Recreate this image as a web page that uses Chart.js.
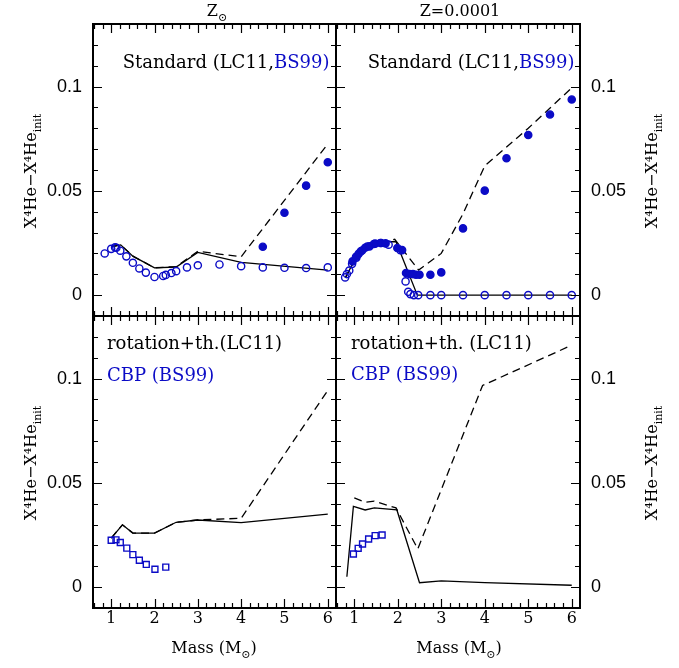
<!DOCTYPE html>
<html>
<head>
<meta charset="utf-8">
<script src="https://cdn.jsdelivr.net/npm/chart.js@4.4.1/dist/chart.umd.min.js"></script>
<style>
  body { margin:0; background:#fff; }
  #wrap { position:relative; width:679px; height:668px; }
  #wrap canvas { position:absolute; left:0; top:0; }
</style>
</head>
<body>
<div id="wrap">
  <canvas id="tl" width="679" height="668"></canvas>
  <canvas id="tr" width="679" height="668"></canvas>
  <canvas id="bl" width="679" height="668"></canvas>
  <canvas id="br" width="679" height="668"></canvas>
</div>
<script>
// axis ticks
const massTicks = [1, 2, 3, 4, 5, 6];
const heTicks = [0, 0.05, 0.1];

// Z sun, standard (LC11 lines, BS99 dots)
const solStdM     = [1.0, 1.22, 1.5, 2.0, 2.5, 3.0, 4.0, 6.0];
const solStdY     = [0.0232, 0.0241, 0.0187, 0.0131, 0.0135, 0.0205, 0.0157, 0.0120];
const solStdDashM = [1.0, 1.22, 1.5, 2.0, 2.5, 3.0, 4.0, 6.0];
const solStdDashY = [0.0232, 0.0241, 0.0187, 0.0131, 0.0137, 0.0210, 0.0184, 0.0725];
const solOpenM = [0.85, 1.0, 1.09, 1.12, 1.21, 1.35, 1.5, 1.65, 1.8, 2.0, 2.2, 2.26, 2.39, 2.5, 2.75, 3.0, 3.5, 4.0, 4.5, 5.0, 5.5, 6.0];
const solOpenY = [0.0200, 0.0222, 0.0229, 0.0227, 0.0213, 0.0186, 0.0155, 0.0128, 0.0108, 0.0087, 0.0092, 0.0097, 0.0106, 0.0115, 0.0133, 0.0143, 0.0147, 0.0139, 0.0133, 0.0131, 0.0130, 0.0133];
const solFullM = [4.5, 5.0, 5.5, 6.0];
const solFullY = [0.0232, 0.0395, 0.0525, 0.0637];

// Z=0.0001, standard
const lowStdM     = [0.8, 1.0, 1.25, 1.5, 1.75, 1.96, 2.45, 3.0, 4.0, 5.0, 6.0];
const lowStdY     = [0.0085, 0.0165, 0.0225, 0.0250, 0.0256, 0.0256, 0, 0, 0, 0, 0];
const lowStdDashM = [0.8, 1.0, 1.25, 1.5, 1.75, 1.93, 2.48, 3.0, 3.5, 4.0, 5.0, 6.0];
const lowStdDashY = [0.0085, 0.0165, 0.0225, 0.0250, 0.0260, 0.0268, 0.0120, 0.0200, 0.0390, 0.0620, 0.0800, 0.0994];
const lowOpenM = [0.79, 0.83, 0.885, 0.95, 1.05, 1.15, 1.3, 1.45, 1.6, 1.79, 2.06, 2.18, 2.24, 2.29, 2.37, 2.47, 2.75, 3.0, 3.5, 4.0, 4.5, 5.0, 5.5, 6.0];
const lowOpenY = [0.0085, 0.0101, 0.0118, 0.0150, 0.0180, 0.0210, 0.0233, 0.0245, 0.0250, 0.0242, 0.0216, 0.0066, 0.0016, 0.0005, 0, 0, 0, 0, 0, 0, 0, 0, 0, 0];
const lowFullM = [0.96, 1.04, 1.10, 1.18, 1.25, 1.35, 1.48, 1.62, 1.72, 1.99, 2.10, 2.19, 2.27, 2.35, 2.42, 2.50, 2.75, 3.0, 3.5, 4.0, 4.5, 5.0, 5.5, 6.0];
const lowFullY = [0.0162, 0.0184, 0.0198, 0.0214, 0.0227, 0.0234, 0.0247, 0.0250, 0.0248, 0.0226, 0.0216, 0.0106, 0.0101, 0.0101, 0.0098, 0.0098, 0.0098, 0.0109, 0.0320, 0.0501, 0.0656, 0.0768, 0.0866, 0.0938];

// Z sun, rotation + thermohaline (LC11), CBP (BS99)
const solRotM     = [1.0, 1.26, 1.5, 2.0, 2.5, 3.0, 4.0, 6.0];
const solRotY     = [0.0235, 0.0299, 0.0259, 0.0259, 0.0311, 0.0322, 0.0309, 0.0350];
const solRotDashM = [1.0, 1.26, 1.5, 2.0, 2.5, 3.0, 4.0, 6.0];
const solRotDashY = [0.0235, 0.0299, 0.0259, 0.0259, 0.0311, 0.0322, 0.0330, 0.0943];
const solCbpM = [1.0, 1.11, 1.21, 1.36, 1.5, 1.65, 1.81, 2.01, 2.26];
const solCbpY = [0.0225, 0.0227, 0.0214, 0.0187, 0.0156, 0.0129, 0.0109, 0.0086, 0.0096];

// Z=0.0001, rotation + thermohaline
const lowRotM     = [0.83, 0.98, 1.25, 1.46, 1.98, 2.5, 3.0, 4.0, 6.0];
const lowRotY     = [0.0050, 0.0387, 0.0370, 0.0380, 0.0370, 0.0021, 0.0030, 0.0022, 0.0009];
const lowRotDashM = [1.0, 1.25, 1.46, 1.96, 2.46, 3.95, 6.0];
const lowRotDashY = [0.0428, 0.0407, 0.0412, 0.0380, 0.0183, 0.0967, 0.1160];
const lowCbpM = [0.98, 1.09, 1.19, 1.33, 1.48, 1.64];
const lowCbpY = [0.0159, 0.0186, 0.0207, 0.0231, 0.0247, 0.0250];

const BLUE = '#0b0bc6';
const W = 679, H = 668;
const XAXIS_H = 40;
const SERIF = '"DejaVu Serif", serif';

function pts(ms, ys){
  return ms.map((m, i) => ({x: m, y: ys[i]}));
}

const solid = (ms, ys) => ({
  data: pts(ms, ys), showLine: true, borderColor: '#000', borderWidth: 1.3,
  pointRadius: 0, fill: false
});
const dashed = (ms, ys) => ({ ...solid(ms, ys), borderDash: [8, 5] });
const dots = (ms, ys, filled, style) => ({
  data: pts(ms, ys), showLine: false,
  pointStyle: style || 'circle',
  pointRadius: style === 'rect' ? 4.2 : 3.6,
  borderWidth: 1.4, pointBorderWidth: 1.4,
  borderColor: BLUE, pointBorderColor: BLUE,
  backgroundColor: filled ? BLUE : 'rgba(0,0,0,0)',
  pointBackgroundColor: filled ? BLUE : 'rgba(0,0,0,0)'
});

// inward ticks on all four sides + heavy frame
const framePlugin = {
  id: 'frame',
  afterDraw(chart){
    const {ctx, chartArea: a, scales: {x, y}} = chart;
    ctx.save();
    ctx.strokeStyle = '#000';
    ctx.lineWidth = 1.2;
    ctx.beginPath();
    for (let k = 3; k <= 31; k++){
      const v = k / 5;
      if (v < x.min || v > x.max) continue;
      const px = Math.round(x.getPixelForValue(v)) + 0.5;
      const len = k % 5 === 0 ? 9 : 5;
      ctx.moveTo(px, a.top); ctx.lineTo(px, a.top + len);
      ctx.moveTo(px, a.bottom); ctx.lineTo(px, a.bottom - len);
    }
    for (let k = -1; k <= 13; k++){
      const v = k / 100;
      const py = Math.round(y.getPixelForValue(v)) + 0.5;
      const len = k % 5 === 0 ? 9 : 5;
      ctx.moveTo(a.left, py); ctx.lineTo(a.left + len, py);
      ctx.moveTo(a.right, py); ctx.lineTo(a.right - len, py);
    }
    ctx.stroke();
    ctx.lineWidth = 2;
    ctx.strokeRect(a.left, a.top, a.right - a.left, a.bottom - a.top);
    ctx.restore();
  }
};

// text with sub/superscript parts
function drawParts(ctx, parts, x, y, align, size, rot){
  ctx.save();
  ctx.translate(x, y);
  if (rot) ctx.rotate(rot);
  ctx.textBaseline = 'alphabetic';
  ctx.textAlign = 'left';
  const fontOf = p => (p.sub ? Math.round(size * 0.68) : size) + 'px ' + SERIF;
  const widths = parts.map(p => { ctx.font = fontOf(p); return ctx.measureText(p.t).width; });
  const total = widths.reduce((s, w) => s + w, 0);
  let cx = align === 'right' ? -total : align === 'center' ? -total / 2 : 0;
  parts.forEach((p, i) => {
    ctx.font = fontOf(p);
    ctx.fillStyle = p.c || '#000';
    ctx.fillText(p.t, cx, p.sub ? size * 0.3 : 0);
    cx += widths[i];
  });
  ctx.restore();
}

function notesPlugin(items){
  return {
    id: 'notes',
    afterDraw(chart){
      items.forEach(it => drawParts(chart.ctx, it.parts, it.x, it.y, it.align, it.size || 18, it.rot));
    }
  };
}

const yTitle = [{t: 'X\u2074He\u2212X\u2074He'}, {t: 'init', sub: true}];
const massTitle = [{t: 'Mass (M'}, {t: '\u2299', sub: true}, {t: ')'}];

function makePanel(id, rect, side, showX, datasets, notes){
  new Chart(document.getElementById(id), {
    type: 'scatter',
    data: { datasets },
    options: {
      responsive: false,
      animation: false,
      events: [],
      layout: {
        padding: {
          left: side === 'left' ? 0 : rect.left,
          right: side === 'right' ? 0 : W - rect.right,
          top: rect.top,
          bottom: showX ? H - rect.bottom - XAXIS_H : H - rect.bottom
        }
      },
      plugins: { legend: { display: false }, tooltip: { enabled: false } },
      scales: {
        x: {
          type: 'linear', position: 'bottom', min: 0.58, max: 6.19,
          display: showX,
          grid: { display: false, drawTicks: false },
          border: { display: false },
          afterBuildTicks: s => { s.ticks = massTicks.map(v => ({value: v})); },
          afterFit: s => { if (showX) s.height = XAXIS_H; },
          ticks: {
            padding: 1, maxRotation: 0, autoSkip: false, color: '#000',
            font: { family: SERIF, size: 16 },
            callback: v => String(v)
          }
        },
        y: {
          type: 'linear', position: side, min: -0.01, max: 0.13,
          grid: { display: false, drawTicks: false },
          border: { display: false },
          afterBuildTicks: s => { s.ticks = heTicks.map(v => ({value: v})); },
          afterFit: s => { s.width = side === 'left' ? rect.left : W - rect.right; },
          ticks: {
            padding: 11, color: '#000',
            font: { family: '"Liberation Sans", Arial, sans-serif', size: 18 },
            callback: v => String(v)
          }
        }
      }
    },
    plugins: [framePlugin, notesPlugin(notes)]
  });
}

const LX = 93, MX = 336, RX = 580, TY = 24, MY = 316, BY = 608;

makePanel('tl', {left: LX, right: MX, top: TY, bottom: MY}, 'left', false, [
  dots(solFullM, solFullY, true),
  dots(solOpenM, solOpenY, false),
  solid(solStdM, solStdY),
  dashed(solStdDashM, solStdDashY)
], [
  {parts: [{t: 'Standard (LC11,'}, {t: 'BS99)', c: BLUE}], x: 329.5, y: 67.5, align: 'right'},
  {parts: [{t: 'Z', }, {t: '\u2299', sub: true}], x: 217, y: 16, align: 'center', size: 16},
  {parts: yTitle, x: 36, y: 171, align: 'center', size: 16, rot: -Math.PI / 2}
]);

makePanel('tr', {left: MX, right: RX, top: TY, bottom: MY}, 'right', false, [
  dots(lowFullM, lowFullY, true),
  dots(lowOpenM, lowOpenY, false),
  solid(lowStdM, lowStdY),
  dashed(lowStdDashM, lowStdDashY)
], [
  {parts: [{t: 'Standard (LC11,'}, {t: 'BS99)', c: BLUE}], x: 574.5, y: 67.5, align: 'right'},
  {parts: [{t: 'Z=0.0001'}], x: 460, y: 16, align: 'center', size: 16},
  {parts: yTitle, x: 657, y: 171, align: 'center', size: 16, rot: -Math.PI / 2}
]);

makePanel('bl', {left: LX, right: MX, top: MY, bottom: BY}, 'left', true, [
  dots(solCbpM, solCbpY, false, 'rect'),
  solid(solRotM, solRotY),
  dashed(solRotDashM, solRotDashY)
], [
  {parts: [{t: 'rotation+th.(LC11)'}], x: 107, y: 348.5, align: 'left'},
  {parts: [{t: 'CBP (BS99)', c: BLUE}], x: 107, y: 381, align: 'left'},
  {parts: massTitle, x: 214, y: 653, align: 'center', size: 16},
  {parts: yTitle, x: 36, y: 463, align: 'center', size: 16, rot: -Math.PI / 2}
]);

makePanel('br', {left: MX, right: RX, top: MY, bottom: BY}, 'right', true, [
  dots(lowCbpM, lowCbpY, false, 'rect'),
  solid(lowRotM, lowRotY),
  dashed(lowRotDashM, lowRotDashY)
], [
  {parts: [{t: 'rotation+th. (LC11)'}], x: 351, y: 348.5, align: 'left'},
  {parts: [{t: 'CBP (BS99)', c: BLUE}], x: 351, y: 380, align: 'left'},
  {parts: massTitle, x: 459, y: 653, align: 'center', size: 16},
  {parts: yTitle, x: 657, y: 463, align: 'center', size: 16, rot: -Math.PI / 2}
]);
</script>
</body>
</html>
